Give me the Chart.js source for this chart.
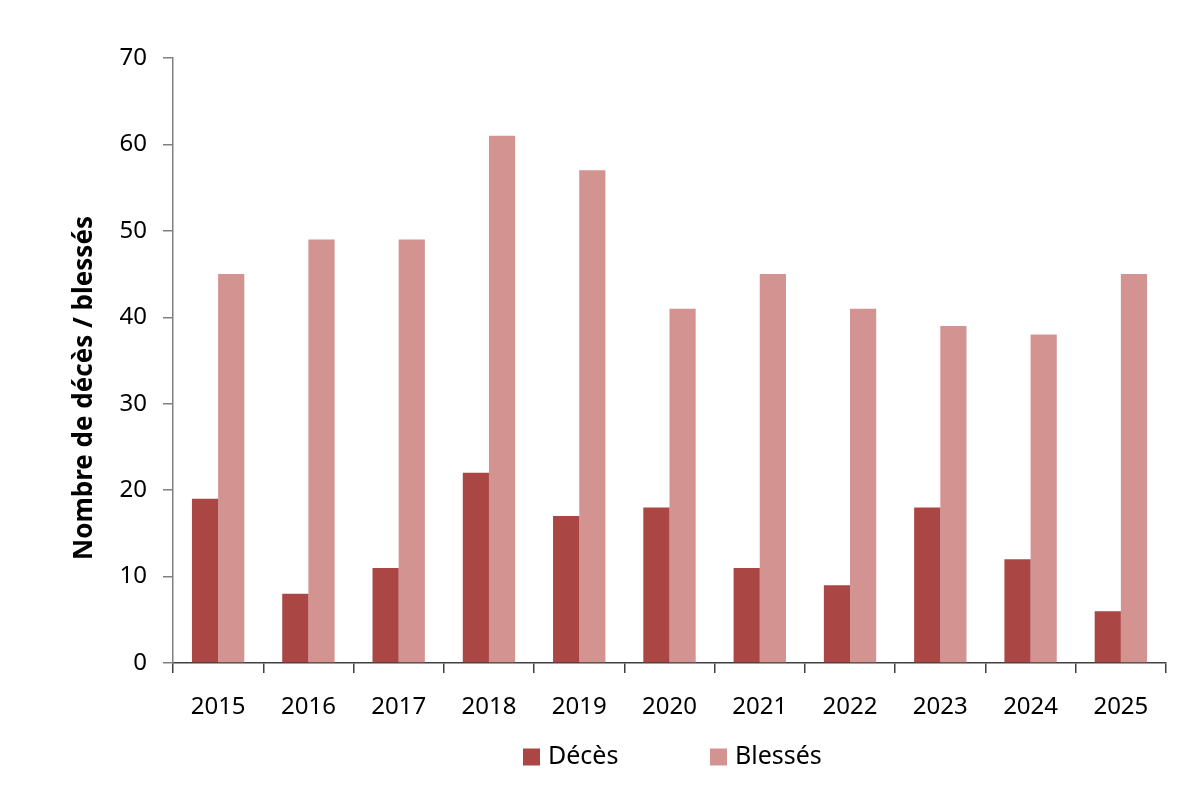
<!DOCTYPE html>
<html><head><meta charset="utf-8">
<script src="https://cdn.jsdelivr.net/npm/chart.js@4/dist/chart.umd.min.js"></script>
<style>html,body{margin:0;padding:0;background:#fff}#wrap{width:1200px;height:785px;position:relative}</style>
</head><body><div id="wrap"><canvas id="c" width="1200" height="785"></canvas></div>
<script>
const years = ['2015','2016','2017','2018','2019','2020','2021','2022','2023','2024','2025'];
const deces = [19, 8, 11, 22, 17, 18, 11, 9, 18, 12, 6];
const blesses = [45, 49, 49, 61, 57, 41, 45, 41, 39, 38, 45];
const yTitle = 'Nombre de décès / blessés';
const FONT = '"Noto Sans", "Open Sans", sans-serif';

const extras = {
  id: 'extras',
  afterDraw(chart) {
    const ctx = chart.ctx;
    ctx.save();
    ctx.fillStyle = '#000';
    ctx.font = 'bold 26px ' + FONT;
    ctx.textAlign = 'center';
    ctx.textBaseline = 'middle';
    ctx.translate(85, 388);
    ctx.rotate(-Math.PI / 2);
    ctx.fillText(yTitle, 0, 0);
    ctx.restore();
    ctx.save();
    ctx.font = '25px ' + FONT;
    ctx.textBaseline = 'middle';
    ctx.textAlign = 'left';
    const xs = [523, 710];
    chart.data.datasets.forEach((ds, i) => {
      const x = xs[i], y = 757;
      ctx.fillStyle = ds.backgroundColor;
      ctx.fillRect(x, y - 8.5, 17, 17);
      ctx.fillStyle = '#000';
      ctx.fillText(ds.label, x + 25, y);
    });
    ctx.restore();
  }
};

new Chart(document.getElementById('c'), {
  type: 'bar',
  data: {
    labels: years,
    datasets: [
      {label: 'Décès', data: deces, backgroundColor: '#aa4644', categoryPercentage: 0.58, barPercentage: 1},
      {label: 'Blessés', data: blesses, backgroundColor: '#d39391', categoryPercentage: 0.58, barPercentage: 1}
    ]
  },
  options: {
    responsive: false,
    animation: false,
    layout: {padding: {left: 0, right: 34, top: 58, bottom: 0}},
    plugins: {legend: {display: false}, tooltip: {enabled: false}},
    scales: {
      x: {
        grid: {display: true, drawOnChartArea: false, drawTicks: true, tickLength: 10, color: '#404040', lineWidth: 1.5, offset: true},
        border: {display: true, color: '#404040', width: 1.5},
        ticks: {color: '#000', font: {family: FONT, size: 24}, padding: 20, maxRotation: 0},
        afterFit(s) { s.height = 122; }
      },
      y: {
        min: 0, max: 70,
        ticks: {stepSize: 10, color: '#000', font: {family: FONT, size: 24}, padding: 16},
        grid: {display: true, drawOnChartArea: false, drawTicks: true, tickLength: 10, color: '#808080', lineWidth: 1.5},
        border: {display: true, color: '#808080', width: 1.5},
        afterFit(s) { s.width = 173; }
      }
    }
  },
  plugins: [extras]
});
</script>
</body></html>
